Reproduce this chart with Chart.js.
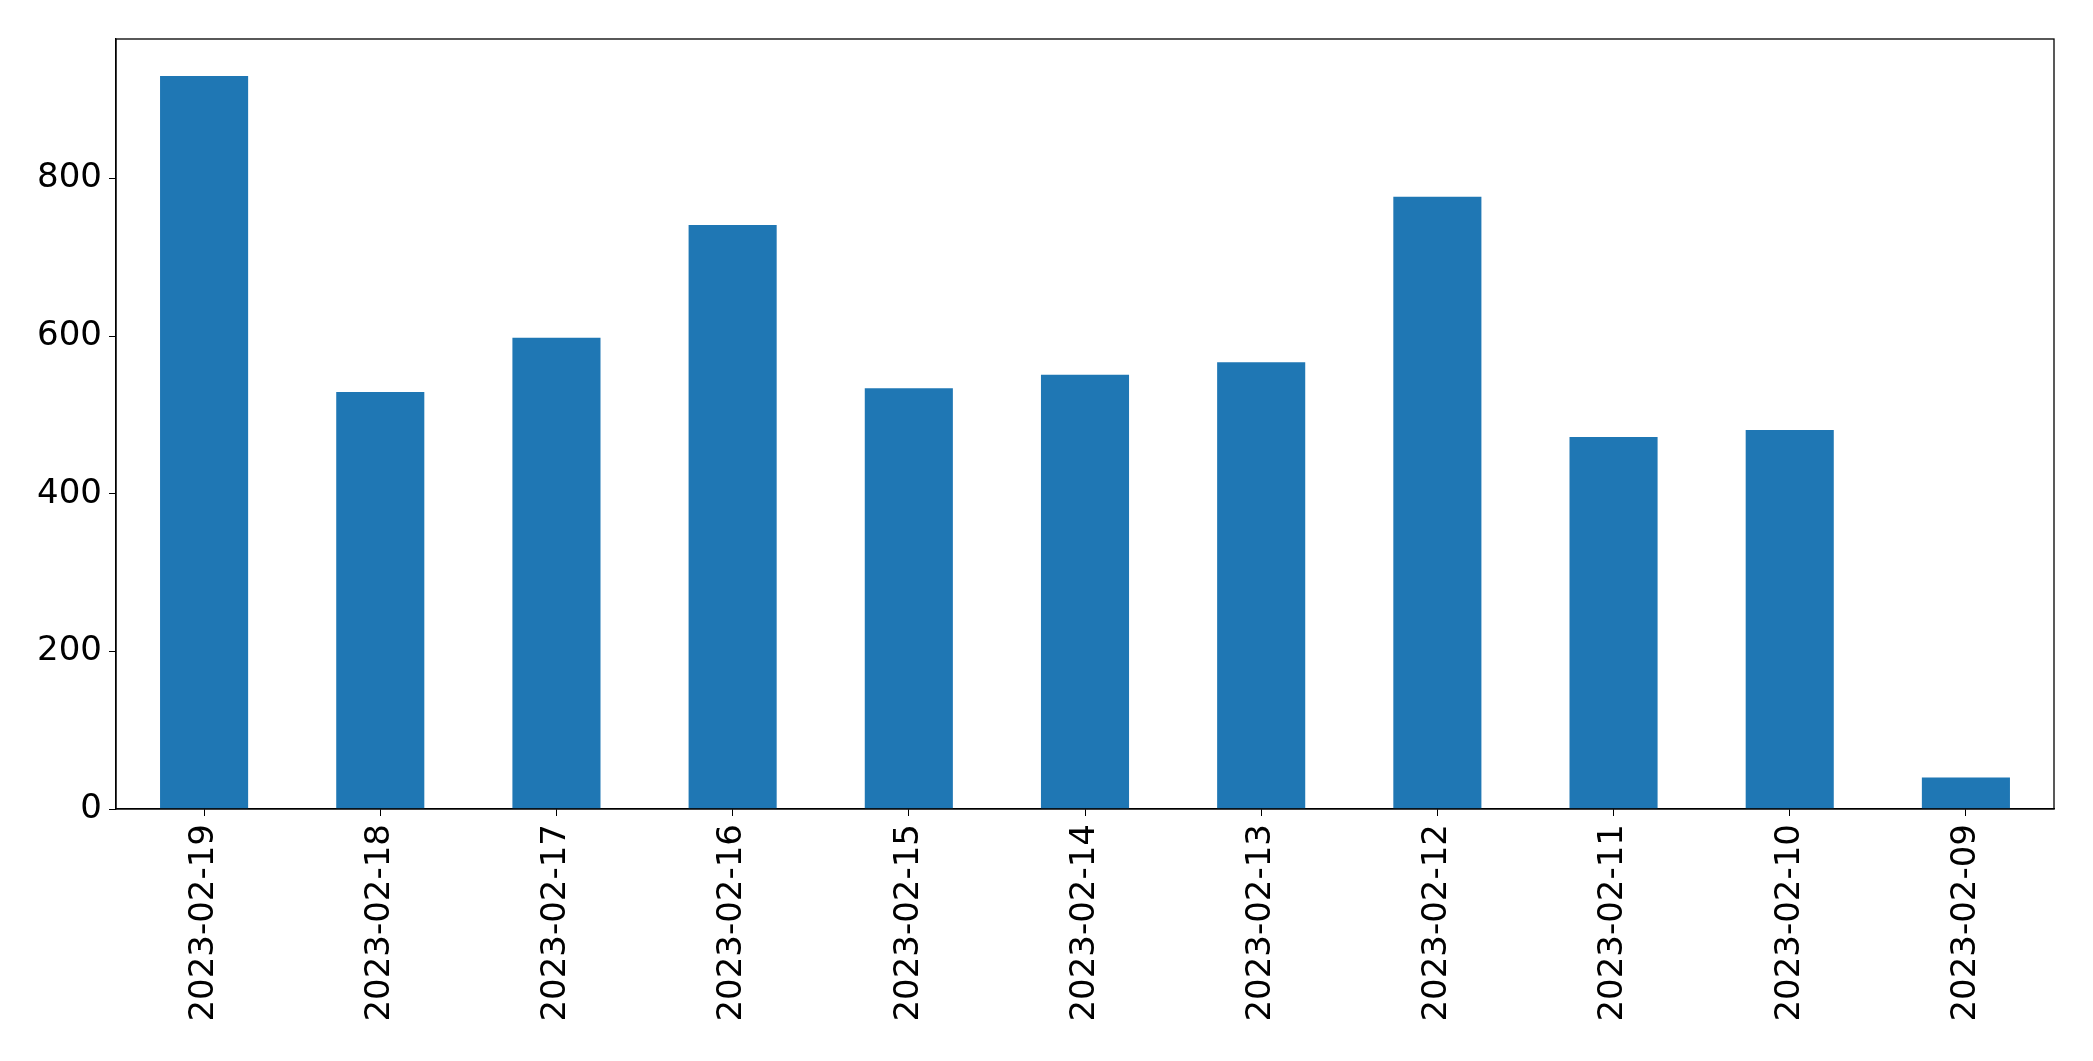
<!DOCTYPE html>
<html>
<head>
<meta charset="utf-8">
<script src="https://cdn.jsdelivr.net/npm/chart.js@4"></script>
<style>
  html, body { margin: 0; padding: 0; background: #fff; }
  #wrap { width: 2093px; height: 1061px; }
</style>
</head>
<body>
<div id="wrap"><canvas id="myChart"></canvas></div>
<script>
// data
var dates = ['2023-02-19', '2023-02-18', '2023-02-17', '2023-02-16', '2023-02-15', '2023-02-14',
             '2023-02-13', '2023-02-12', '2023-02-11', '2023-02-10', '2023-02-09'];
var counts = [930, 529, 598, 741, 534, 551, 567, 777, 472, 481, 40];
var yTicks = [0, 200, 400, 600, 800];
var yMax = 977;

// box round the plot area, like matplotlib's spines
var frame = {
    id: 'frame',
    afterDraw: function (chart) {
        var a = chart.chartArea;
        var c = chart.ctx;
        c.save();
        c.strokeStyle = '#000';
        c.lineWidth = 1.3;
        c.strokeRect(a.left, a.top, a.right - a.left, a.bottom - a.top);
        c.restore();
    }
};

var ctx = document.getElementById('myChart').getContext('2d');

var myChart = new Chart(ctx, {
    type: 'bar',
    data: {
        labels: dates,
        datasets: [{
            data: counts,
            backgroundColor: '#1f77b4',
            borderWidth: 0,
            barPercentage: 0.5,
            categoryPercentage: 1.0
        }]
    },
    options: {
        responsive: true,
        maintainAspectRatio: false,
        devicePixelRatio: 1,
        animation: false,
        layout: { padding: { left: 0, top: 39, right: 39, bottom: 0 } },
        plugins: {
            legend: { display: false },
            tooltip: { enabled: false }
        },
        scales: {
            x: {
                offset: true,
                grid: { drawOnChartArea: false, drawTicks: true, tickLength: 7, color: '#000', offset: false },
                border: { display: true, color: '#000', width: 1.3 },
                ticks: {
                    color: '#000',
                    font: { family: 'DejaVu Sans', size: 34 },
                    minRotation: 90,
                    maxRotation: 90,
                    padding: 8,
                    autoSkip: false
                },
                afterFit: function (scale) { scale.height = 252; }
            },
            y: {
                min: 0,
                max: yMax,
                grid: { drawOnChartArea: false, drawTicks: true, tickLength: 7, color: '#000' },
                border: { display: true, color: '#000', width: 1.3 },
                ticks: {
                    color: '#000',
                    font: { family: 'DejaVu Sans', size: 34 },
                    padding: 7
                },
                afterBuildTicks: function (scale) {
                    scale.ticks = yTicks.map(function (v) { return { value: v }; });
                },
                afterFit: function (scale) { scale.width = 116; }
            }
        }
    },
    plugins: [frame]
});
</script>
</body>
</html>
